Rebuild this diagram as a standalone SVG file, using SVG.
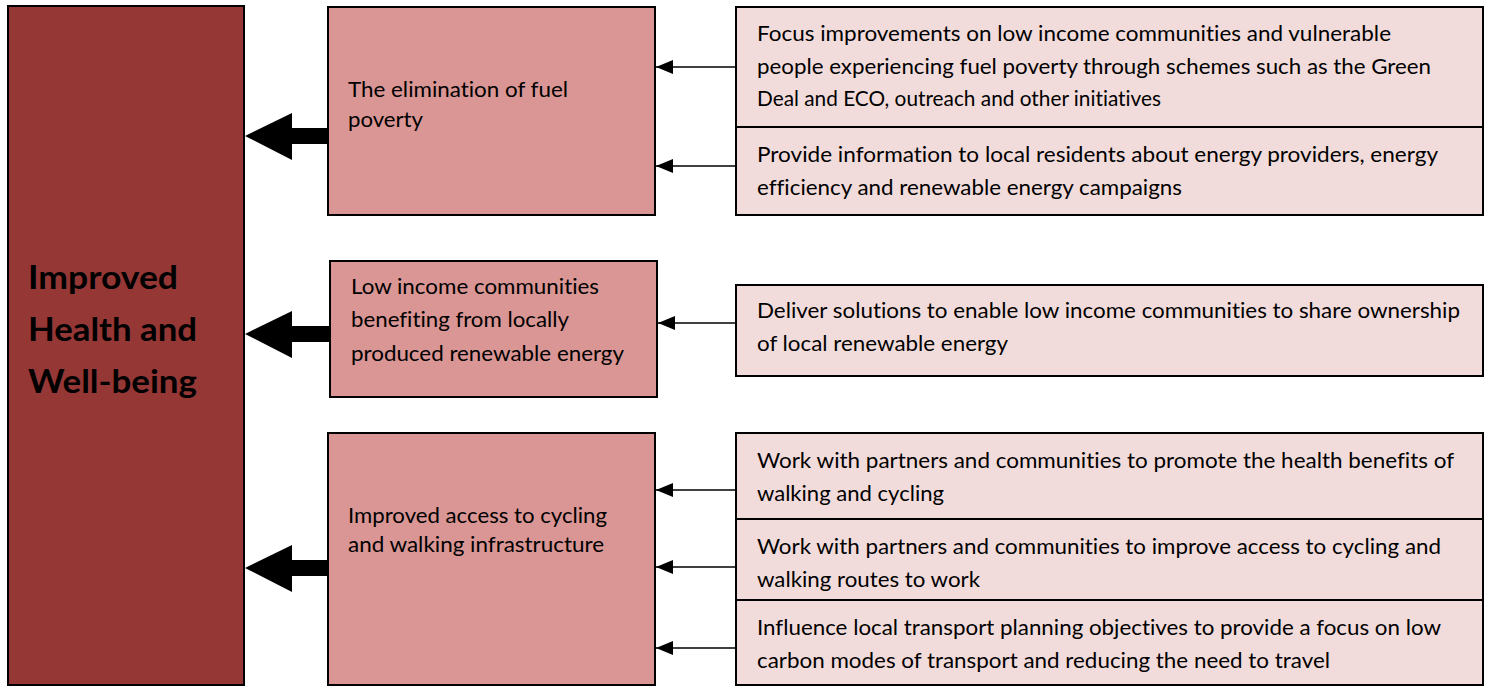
<svg xmlns="http://www.w3.org/2000/svg" width="1489" height="689" viewBox="0 0 1489 689">
  <defs>
    <style>
      .goal { fill: #953735; stroke: #000; stroke-width: 2; }
      .outcome { fill: #D99694; stroke: #000; stroke-width: 2; }
      .action { fill: #F2DCDB; stroke: #000; stroke-width: 2; }
      text { font-family: Lato, "Open Sans", "Liberation Sans", sans-serif; fill: #000; font-variant-ligatures: none; }
      .t { font-size: 21px; }
      .big { font-size: 33px; font-weight: bold; }
      .thin { stroke: #000; stroke-width: 1.5; fill: none; }
      .fat { fill: #000; }
    </style>
    <marker id="head" viewBox="0 0 17 14" refX="17" refY="7" markerWidth="17" markerHeight="14" markerUnits="userSpaceOnUse" orient="auto">
      <path d="M0,0 L17,7 L0,14 Z" fill="#000"/>
    </marker>
  </defs>

  <rect width="1489" height="689" fill="#fff"/>

  <!-- central goal -->
  <g id="goal">
    <rect class="goal" x="8" y="6" width="236" height="679"/>
    <text class="big" x="28" y="289" textLength="150" lengthAdjust="spacingAndGlyphs">Improved</text>
    <text class="big" x="28" y="341" textLength="169" lengthAdjust="spacingAndGlyphs">Health and</text>
    <text class="big" x="28" y="393" textLength="169" lengthAdjust="spacingAndGlyphs">Well-being</text>
  </g>

  <!-- outcomes -->
  <g id="outcome-fuel-poverty">
    <rect class="outcome" x="328" y="7" width="327" height="208"/>
    <text class="t" x="348" y="97" textLength="220" lengthAdjust="spacingAndGlyphs">The elimination of fuel</text>
    <text class="t" x="348" y="127" textLength="75" lengthAdjust="spacingAndGlyphs">poverty</text>
  </g>
  <g id="outcome-renewables">
    <rect class="outcome" x="330" y="261" width="327" height="136"/>
    <text class="t" x="351" y="294" textLength="248" lengthAdjust="spacingAndGlyphs">Low income communities</text>
    <text class="t" x="351" y="327" textLength="218" lengthAdjust="spacingAndGlyphs">benefiting from locally</text>
    <text class="t" x="351" y="361" textLength="273" lengthAdjust="spacingAndGlyphs">produced renewable energy</text>
  </g>
  <g id="outcome-active-travel">
    <rect class="outcome" x="328" y="433" width="327" height="252"/>
    <text class="t" x="348" y="523" textLength="259" lengthAdjust="spacingAndGlyphs">Improved access to cycling</text>
    <text class="t" x="348" y="552" textLength="256" lengthAdjust="spacingAndGlyphs">and walking infrastructure</text>
  </g>

  <!-- actions -->
  <g id="action-focus">
    <rect class="action" x="736" y="7" width="747" height="120"/>
    <text class="t" x="757" y="41" textLength="634" lengthAdjust="spacingAndGlyphs">Focus improvements on low income communities and vulnerable</text>
    <text class="t" x="757" y="74" textLength="674" lengthAdjust="spacingAndGlyphs">people experiencing fuel poverty through schemes such as the Green</text>
    <text class="t" x="757" y="106" textLength="404" lengthAdjust="spacingAndGlyphs">Deal and ECO, outreach and other initiatives</text>
  </g>
  <g id="action-information">
    <rect class="action" x="736" y="127" width="747" height="88"/>
    <text class="t" x="757" y="162" textLength="681" lengthAdjust="spacingAndGlyphs">Provide information to local residents about energy providers, energy</text>
    <text class="t" x="757" y="195" textLength="425" lengthAdjust="spacingAndGlyphs">efficiency and renewable energy campaigns</text>
  </g>
  <g id="action-ownership">
    <rect class="action" x="736" y="285" width="747" height="91"/>
    <text class="t" x="757" y="318" textLength="703" lengthAdjust="spacingAndGlyphs">Deliver solutions to enable low income communities to share ownership</text>
    <text class="t" x="757" y="351" textLength="251" lengthAdjust="spacingAndGlyphs">of local renewable energy</text>
  </g>
  <g id="action-promote">
    <rect class="action" x="736" y="433" width="747" height="86"/>
    <text class="t" x="757" y="468" textLength="697" lengthAdjust="spacingAndGlyphs">Work with partners and communities to promote the health benefits of</text>
    <text class="t" x="757" y="501" textLength="187" lengthAdjust="spacingAndGlyphs">walking and cycling</text>
  </g>
  <g id="action-access">
    <rect class="action" x="736" y="519" width="747" height="81"/>
    <text class="t" x="757" y="554" textLength="684" lengthAdjust="spacingAndGlyphs">Work with partners and communities to improve access to cycling and</text>
    <text class="t" x="757" y="587" textLength="223" lengthAdjust="spacingAndGlyphs">walking routes to work</text>
  </g>
  <g id="action-planning">
    <rect class="action" x="736" y="600" width="747" height="85"/>
    <text class="t" x="757" y="635" textLength="684" lengthAdjust="spacingAndGlyphs">Influence local transport planning objectives to provide a focus on low</text>
    <text class="t" x="757" y="668" textLength="573" lengthAdjust="spacingAndGlyphs">carbon modes of transport and reducing the need to travel</text>
  </g>

  <!-- connectors -->
  <g id="connectors">
    <!-- action to outcome -->
    <line class="thin" x1="736" y1="67" x2="656" y2="67" marker-end="url(#head)"/>
    <line class="thin" x1="736" y1="166" x2="656" y2="166" marker-end="url(#head)"/>
    <line class="thin" x1="736" y1="323" x2="658" y2="323" marker-end="url(#head)"/>
    <line class="thin" x1="736" y1="490" x2="656" y2="490" marker-end="url(#head)"/>
    <line class="thin" x1="736" y1="567" x2="656" y2="567" marker-end="url(#head)"/>
    <line class="thin" x1="736" y1="648" x2="656" y2="648" marker-end="url(#head)"/>
    <!-- outcome to goal: block arrows -->
    <path class="fat" d="M328,128 L292,128 L292,113 L245,136 L292,160 L292,144 L328,144 Z"/>
    <path class="fat" d="M330,326 L292,326 L292,311 L245,334 L292,358 L292,342 L330,342 Z"/>
    <path class="fat" d="M328,560 L292,560 L292,545 L245,568 L292,592 L292,576 L328,576 Z"/>
  </g>
</svg>
